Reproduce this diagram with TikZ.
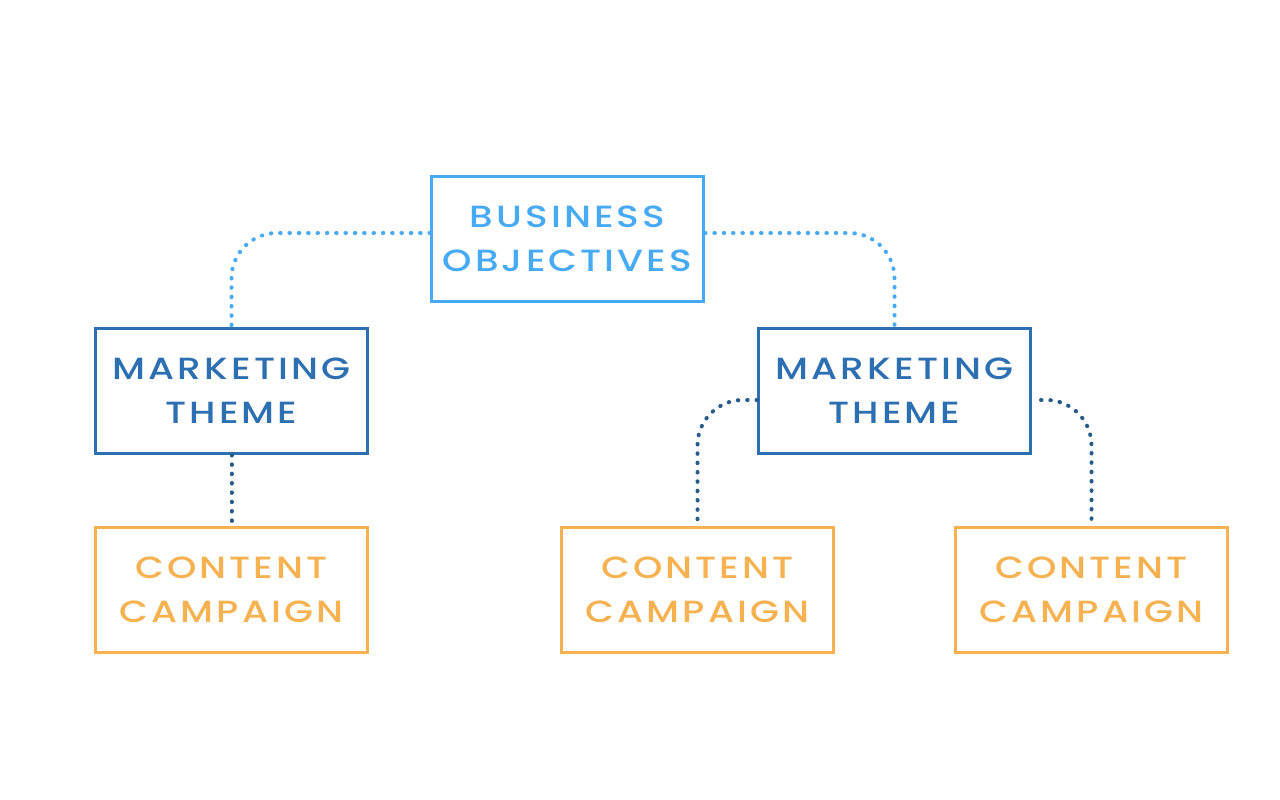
\documentclass[tikz,border=0pt]{standalone}
\usepackage{fontspec}
\usetikzlibrary{calc}
\newfontfamily\boxfont[LetterSpace=10,FakeStretch=1.22,UprightFont=* Medium]{Poppins}
\definecolor{objblue}{RGB}{70,170,245}
\definecolor{themeblue}{RGB}{45,112,178}
\definecolor{linkblue}{RGB}{38,92,138}
\definecolor{campaignorange}{RGB}{246,178,80}
\tikzset{
  tbox/.style={draw=#1,text=#1,line width=2.25pt,minimum width=204pt,minimum height=93.75pt,inner sep=0pt,align=center,font=\boxfont\fontsize{23}{33}\selectfont},
  dotlink/.style={draw=#1,line width=3pt,line cap=round,dash pattern=on 0.4pt off 6.6pt,rounded corners=34pt}
}
\begin{document}
\begin{tikzpicture}[x=0.75pt,y=0.75pt,yscale=-1,xscale=1]
\useasboundingbox (0,0) rectangle (1280,799);

% Text Node
\node[tbox=objblue] (bo) at (567.5,239) {BUSINESS\\OBJECTIVES};
% Text Node
\node[tbox=themeblue] (mtl) at (231.5,391) {MARKETING\\THEME};
% Text Node
\node[tbox=themeblue] (mtr) at (894.5,391) {MARKETING\\THEME};
% Text Node
\node[tbox=campaignorange] (ccl) at (231.5,590) {CONTENT\\CAMPAIGN};
% Text Node
\node[tbox=campaignorange] (ccm) at (697.5,590) {CONTENT\\CAMPAIGN};
% Text Node
\node[tbox=campaignorange] (ccr) at (1091.5,590) {CONTENT\\CAMPAIGN};

%Dotted Lines
\draw[dotlink=objblue] ($(bo.west)+(0,-6)$) -| (mtl.north);
\draw[dotlink=objblue] ($(bo.east)+(0,-6)$) -| (mtr.north);
\draw[dotlink=linkblue] (mtl.south) -- (ccl.north);
\draw[dotlink=linkblue] ($(mtr.west)+(0,9)$) -| (ccm.north);
\draw[dotlink=linkblue] ($(mtr.east)+(9,9)$) -| (ccr.north);
\end{tikzpicture}
\end{document}
